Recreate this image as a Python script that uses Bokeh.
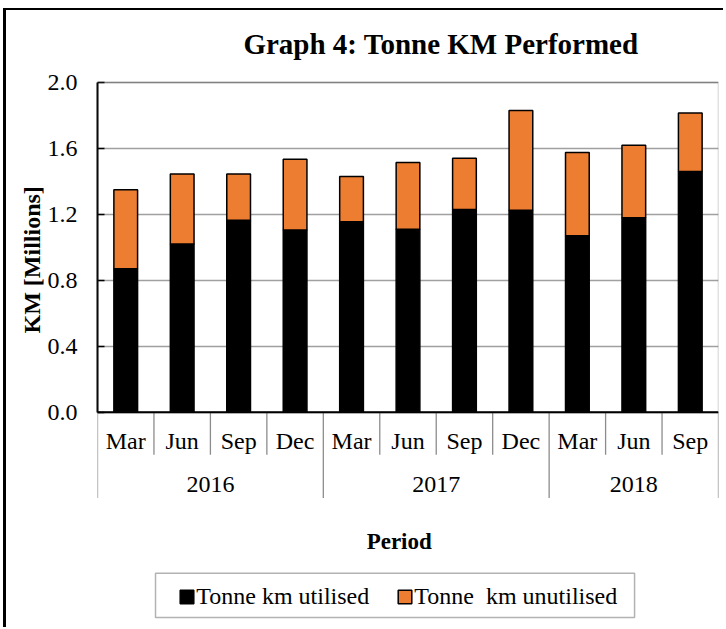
import numpy as np
from bokeh.plotting import figure
from bokeh.models import (Range1d, FixedTicker, PrintfTickFormatter, ColumnDataSource,
                          Legend, LegendItem, Label, BoxAnnotation, Span, Title)
from bokeh.core.properties import value
from bokeh.embed import file_html
from bokeh.resources import INLINE

# ---------------- data ----------------
years = ["2016", "2016", "2016", "2016", "2017", "2017", "2017", "2017", "2018", "2018", "2018"]
months = ["Mar", "Jun", "Sep", "Dec", "Mar", "Jun", "Sep", "Dec", "Mar", "Jun", "Sep"]
utilised = [0.87, 1.02, 1.165, 1.105, 1.155, 1.11, 1.23, 1.225, 1.07, 1.18, 1.46]
unutilised = [0.48, 0.425, 0.28, 0.43, 0.275, 0.405, 0.31, 0.605, 0.505, 0.44, 0.355]
y_ticks = [0.0, 0.4, 0.8, 1.2, 1.6, 2.0]
series_names = ["Tonne km utilised", "Tonne  km unutilised"]
series_colors = ["#000000", "#ED7D31"]
title_text = "Graph 4: Tonne KM Performed"
y_title = "KM [Millions]"
x_title = "Period"

SERIF = "Liberation Serif"
n = len(months)
xc = np.arange(n) + 0.5
y_top = max(y_ticks)

p = figure(width=720, height=619, output_backend="svg", toolbar_location=None,
           x_range=Range1d(0, n), y_range=Range1d(-1.3182, 2.4368),
           min_border_left=91, min_border_right=8, min_border_top=0, min_border_bottom=0,
           x_axis_type=None)
p.outline_line_color = None
p.background_fill_color = "white"
p.border_fill_color = "white"
p.styles = {"margin-left": "3px", "margin-top": "8px",
            "border-left": "3px solid black", "border-top": "2px solid black"}

# y axis
p.yaxis.ticker = FixedTicker(ticks=y_ticks)
p.yaxis.formatter = PrintfTickFormatter(format="%.1f")
p.yaxis.bounds = (0, y_top)
p.yaxis.axis_line_color = "black"
p.yaxis.axis_line_width = 2
p.yaxis.major_tick_in = 7
p.yaxis.major_tick_out = 0
p.yaxis.major_tick_line_color = "black"
p.yaxis.major_tick_line_width = 1.5
p.yaxis.minor_tick_line_color = None
p.yaxis.major_label_text_font = SERIF
p.yaxis.major_label_text_font_size = "24px"
p.yaxis.major_label_text_color = "black"
p.yaxis.major_label_standoff = 20

p.ygrid.ticker = FixedTicker(ticks=y_ticks)
p.ygrid.bounds = (0, y_top)
p.ygrid.grid_line_color = "#a0a0a0"
p.ygrid.grid_line_width = 1.3

# bars
src = ColumnDataSource(dict(x=xc, utilised=utilised, unutilised=unutilised))
rs = p.vbar_stack(["utilised", "unutilised"], x="x", width=0.42, source=src,
                  fill_color=series_colors, line_color="black", line_width=1.5)

# plot box (top/right) and base line
p.add_layout(BoxAnnotation(left=0, right=n, bottom=0, top=y_top, fill_color=None,
                           line_color="#3c3c3c", line_width=1.5))
p.add_layout(Span(location=0, dimension="width", line_color="black", line_width=2))

# category table
group_edges = [0] + [i for i in range(1, n) if years[i] != years[i - 1]] + [n]
month_edges = [i for i in range(1, n) if i not in group_edges]
p.segment(x0=month_edges, y0=[0] * len(month_edges), x1=month_edges,
          y1=[-0.2584] * len(month_edges), line_color="#8c8c8c", line_width=1.3)
p.segment(x0=group_edges, y0=[0] * len(group_edges), x1=group_edges,
          y1=[-0.5205] * len(group_edges), line_color="#8c8c8c", line_width=1.3)
p.text(x=xc, y=[-0.1777] * n, text=months, text_font=value(SERIF), text_font_size="24px",
       text_align="center", text_baseline="middle", text_color="black")
group_labels = [years[group_edges[k]] for k in range(len(group_edges) - 1)]
group_centers = [(group_edges[k] + group_edges[k + 1]) / 2 for k in range(len(group_edges) - 1)]
p.text(x=group_centers, y=[-0.4386] * len(group_labels), text=group_labels,
       text_font=value(SERIF), text_font_size="24px",
       text_align="center", text_baseline="middle", text_color="black")

# titles
p.add_layout(Label(x=343.5, y=585.5, x_units="screen", y_units="screen", text=title_text,
                   text_font=SERIF, text_font_size="29px", text_font_style="bold",
                   text_align="center", text_baseline="middle", text_color="black"))
p.add_layout(Label(x=301.7, y=87.8, x_units="screen", y_units="screen", text=x_title,
                   text_font=SERIF, text_font_size="23px", text_font_style="bold",
                   text_align="center", text_baseline="middle", text_color="black"))
p.add_layout(Title(text=y_title, align="left", offset=296, vertical_align="bottom", standoff=0,
                   text_font=SERIF, text_font_size="24px", text_font_style="bold",
                   text_color="black"), "left")

# legend
legend = Legend(items=[LegendItem(label=series_names[0], renderers=[rs[0]]),
                       LegendItem(label=series_names[1], renderers=[rs[1]])],
                orientation="horizontal", location=(81.3, 19), padding=0, margin=0,
                spacing=27, label_standoff=1, glyph_width=17, glyph_height=17,
                label_text_font=SERIF, label_text_font_size="24px", label_text_color="black",
                border_line_color=None, background_fill_alpha=0)
p.add_layout(legend)
p.add_layout(BoxAnnotation(left=1.0275, right=9.513, top=-0.9767, bottom=-1.2454, fill_color=None,
                           line_color="black", line_width=1.5))

open("out.html", "w").write(file_html(p, INLINE))
